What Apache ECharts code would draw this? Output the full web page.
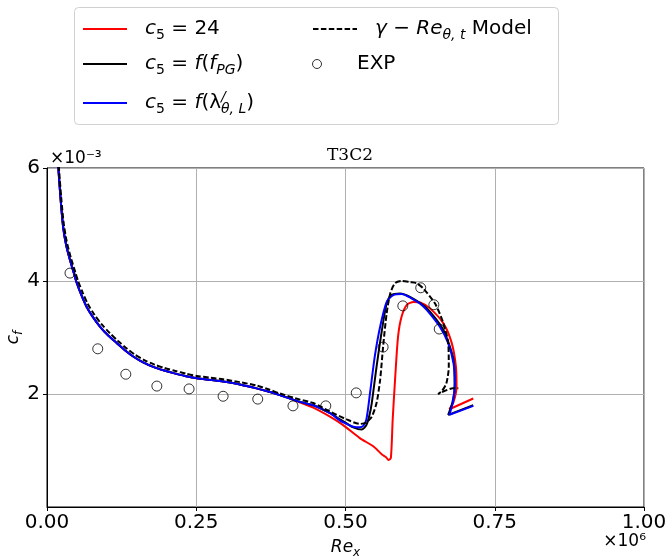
<!DOCTYPE html>
<html>
<head>
<meta charset="utf-8">
<script src="https://cdn.jsdelivr.net/npm/echarts@6/dist/echarts.min.js"></script>
<style>
  html, body { margin: 0; padding: 0; background: #ffffff; }
  #chart { width: 668px; height: 559px; }
</style>
</head>
<body>
<div id="chart"></div>
<script>
// Skin friction along the plate, T3C2 case (Re_x in units of 1e6, c_f in units of 1e-3)

const xTicks = [0, 0.25, 0.5, 0.75, 1.0];
const yTicks = [2, 4, 6];

// c5 = 24
const redX = [0.015, 0.019, 0.023, 0.027, 0.032, 0.0385, 0.045, 0.050, 0.058, 0.066, 0.077, 0.089, 0.103, 0.117, 0.131, 0.145, 0.161, 0.178, 0.195, 0.212, 0.231, 0.251, 0.273, 0.295, 0.323, 0.351, 0.372, 0.390, 0.405, 0.424, 0.446, 0.474, 0.496, 0.524, 0.547, 0.561, 0.568, 0.572, 0.576, 0.579, 0.583, 0.588, 0.594, 0.603, 0.614, 0.625, 0.641, 0.664, 0.678, 0.685, 0.686, 0.681, 0.674, 0.714];
const redY = [6.60, 6.00, 5.42, 4.96, 4.64, 4.37, 4.14, 3.96, 3.74, 3.55, 3.36, 3.19, 3.03, 2.90, 2.77, 2.66, 2.56, 2.48, 2.42, 2.37, 2.32, 2.28, 2.25, 2.22, 2.17, 2.10, 2.04, 1.98, 1.93, 1.85, 1.76, 1.60, 1.45, 1.22, 1.07, 0.93, 0.88, 0.83, 0.87, 1.54, 2.25, 3.01, 3.37, 3.58, 3.63, 3.62, 3.52, 3.25, 2.90, 2.48, 2.13, 1.86, 1.73, 1.92];

// c5 = f(f_PG)
const blackX = [0.015, 0.019, 0.023, 0.027, 0.032, 0.0385, 0.045, 0.050, 0.058, 0.066, 0.077, 0.089, 0.103, 0.117, 0.131, 0.145, 0.161, 0.178, 0.195, 0.212, 0.231, 0.251, 0.273, 0.295, 0.323, 0.351, 0.372, 0.390, 0.424, 0.446, 0.474, 0.491, 0.502, 0.513, 0.527, 0.535, 0.540, 0.544, 0.552, 0.561, 0.569, 0.577, 0.591, 0.608, 0.636, 0.664, 0.681, 0.683, 0.679, 0.672, 0.714];
const blackY = [6.60, 6.00, 5.42, 4.96, 4.64, 4.37, 4.14, 3.96, 3.74, 3.55, 3.36, 3.19, 3.03, 2.90, 2.77, 2.66, 2.56, 2.48, 2.42, 2.37, 2.32, 2.28, 2.25, 2.22, 2.17, 2.10, 2.04, 1.98, 1.86, 1.80, 1.66, 1.55, 1.48, 1.41, 1.37, 1.45, 1.62, 1.84, 2.48, 3.13, 3.60, 3.75, 3.78, 3.72, 3.52, 3.13, 2.60, 2.13, 1.85, 1.63, 1.80];

// c5 = f(lambda'_theta,L)
const blueX = [0.015, 0.019, 0.023, 0.027, 0.032, 0.0385, 0.045, 0.050, 0.058, 0.066, 0.077, 0.089, 0.103, 0.117, 0.131, 0.145, 0.161, 0.178, 0.195, 0.212, 0.231, 0.251, 0.273, 0.295, 0.323, 0.351, 0.372, 0.390, 0.424, 0.446, 0.474, 0.491, 0.502, 0.513, 0.524, 0.530, 0.535, 0.541, 0.549, 0.558, 0.569, 0.580, 0.594, 0.611, 0.625, 0.636, 0.658, 0.672, 0.681, 0.683, 0.680, 0.674, 0.714];
const blueY = [6.60, 6.00, 5.42, 4.96, 4.64, 4.37, 4.14, 3.96, 3.74, 3.55, 3.36, 3.19, 3.03, 2.90, 2.77, 2.66, 2.56, 2.48, 2.42, 2.37, 2.32, 2.28, 2.25, 2.22, 2.17, 2.10, 2.04, 1.98, 1.86, 1.80, 1.66, 1.53, 1.47, 1.42, 1.41, 1.44, 1.55, 2.01, 2.66, 3.19, 3.63, 3.75, 3.77, 3.69, 3.60, 3.49, 3.19, 2.90, 2.54, 2.19, 1.86, 1.63, 1.79];

// gamma - Re_theta,t model
const gammaX = [0.016, 0.020, 0.024, 0.028, 0.033, 0.040, 0.047, 0.052, 0.060, 0.068, 0.079, 0.091, 0.105, 0.119, 0.133, 0.147, 0.163, 0.180, 0.197, 0.214, 0.233, 0.251, 0.273, 0.295, 0.323, 0.351, 0.372, 0.390, 0.424, 0.446, 0.474, 0.502, 0.524, 0.535, 0.544, 0.552, 0.558, 0.563, 0.569, 0.575, 0.583, 0.594, 0.608, 0.619, 0.630, 0.650, 0.664, 0.672, 0.673, 0.669, 0.662, 0.655, 0.680, 0.689];
const gammaY = [6.60, 6.00, 5.45, 5.02, 4.70, 4.41, 4.17, 4.00, 3.79, 3.60, 3.41, 3.24, 3.08, 2.94, 2.81, 2.70, 2.60, 2.52, 2.46, 2.41, 2.36, 2.32, 2.29, 2.26, 2.21, 2.15, 2.08, 2.01, 1.90, 1.84, 1.69, 1.55, 1.47, 1.50, 1.60, 1.84, 2.25, 2.84, 3.43, 3.78, 3.96, 4.00, 3.98, 3.96, 3.87, 3.60, 3.25, 2.90, 2.48, 2.19, 2.06, 2.00, 2.10, 2.10];

// Experiment
const expX = [0.0385, 0.085, 0.132, 0.184, 0.238, 0.295, 0.353, 0.412, 0.467, 0.518, 0.563, 0.596, 0.626, 0.648, 0.657];
const expY = [4.14, 2.80, 2.35, 2.14, 2.09, 1.96, 1.91, 1.79, 1.79, 2.02, 2.83, 3.56, 3.88, 3.58, 3.15];

const zip = (xs, ys) => xs.map((x, i) => [x, ys[i]]);

const FONT = 'DejaVu Sans';
const richStyles = {
  g: { width: 13 },
  n: { fontFamily: FONT, fontSize: 20, color: '#000', lineHeight: 26 },
  i: { fontFamily: FONT, fontSize: 20, fontStyle: 'italic', color: '#000', lineHeight: 26 },
  s: { fontFamily: FONT, fontSize: 14, color: '#000', lineHeight: 14, verticalAlign: 'bottom' },
  si: { fontFamily: FONT, fontSize: 14, fontStyle: 'italic', color: '#000', lineHeight: 14, verticalAlign: 'bottom' },
  sup: { fontFamily: FONT, fontSize: 14, fontStyle: 'italic', color: '#000', lineHeight: 14, verticalAlign: 'top', width: 0 }
};

const legendText = {
  'red': '{g|}{i|c}{s|5}{n| = 24}',
  'black': '{g|}{i|c}{s|5}{n| = }{i|f}{n|(}{i|f}{si|PG}{n|)}',
  'blue': '{g|}{i|c}{s|5}{n| = }{i|f}{n|(λ}{sup|/}{si|θ, L}{n|)}',
  'gamma': '{g|}{i|γ}{n| − }{i|Re}{si|θ, t}{n| Model}',
  'exp': '{g|}{n|EXP}'
};

function legendAt(name, left, top, extra) {
  return Object.assign({
    left: left, top: top,
    itemWidth: 44, itemHeight: 10,
    padding: 0,
    selectedMode: false,
    data: [name],
    itemStyle: { opacity: 0 },
    formatter: (n) => legendText[n],
    textStyle: { rich: richStyles }
  }, extra || {});
}

const lineBase = (name, xs, ys, color, type) => ({
  name: name,
  type: 'line',
  data: zip(xs, ys),
  showSymbol: false,
  symbol: 'none',
  smooth: 0.25,
  clip: true,
  lineStyle: { color: color, width: 2, type: type || 'solid' },
  itemStyle: { color: color },
  emphasis: { disabled: true },
  animation: false
});

const axisNameRich = {
  i: { fontFamily: FONT, fontSize: 17, fontStyle: 'italic', color: '#000', lineHeight: 22 },
  si: { fontFamily: FONT, fontSize: 12, fontStyle: 'italic', color: '#000', lineHeight: 12, verticalAlign: 'bottom' }
};

const chart = echarts.init(document.getElementById('chart'), null, { renderer: 'canvas' });

chart.setOption({
  backgroundColor: '#ffffff',
  animation: false,
  title: {
    text: 'T3C2',
    left: 345, top: 142,
    textAlign: 'center',
    textStyle: { fontFamily: 'DejaVu Serif', fontSize: 17, fontWeight: 'normal', color: '#000' }
  },
  grid: {
    left: 47, right: 24, top: 168, bottom: 52,
    outerBoundsMode: 'none',
    containLabel: false,
    show: true, borderColor: '#000', borderWidth: 1, backgroundColor: 'transparent'
  },
  xAxis: {
    type: 'value', min: 0, max: 1, interval: 0.25,
    axisLine: { show: true, lineStyle: { color: '#000', width: 1 } },
    axisTick: { show: true, inside: false, length: 4, lineStyle: { color: '#000' } },
    axisLabel: {
      margin: 6, color: '#000', fontFamily: FONT, fontSize: 20,
      formatter: (v) => v.toFixed(2)
    },
    splitLine: { show: true, lineStyle: { color: '#b0b0b0', width: 1 } },
    name: '{i|Re}{si|x}',
    nameLocation: 'middle', nameGap: 30, nameMoveOverlap: false,
    nameTextStyle: { rich: axisNameRich }
  },
  yAxis: {
    type: 'value', min: 0, max: 6, interval: 2,
    axisLine: { show: true, lineStyle: { color: '#000', width: 1 } },
    axisTick: { show: true, inside: false, length: 4, customValues: yTicks, lineStyle: { color: '#000' } },
    axisLabel: {
      margin: 7, color: '#000', fontFamily: FONT, fontSize: 20,
      customValues: yTicks,
      formatter: (v) => String(v)
    },
    splitLine: { show: true, lineStyle: { color: '#b0b0b0', width: 1 } },
    name: '{i|c}{si|f}',
    nameLocation: 'middle', nameGap: 22, nameRotate: 90, nameMoveOverlap: false,
    nameTextStyle: { rich: axisNameRich }
  },
  legend: [
    legendAt('red', 82, 19),
    legendAt('black', 82, 54),
    legendAt('blue', 82, 90),
    legendAt('gamma', 312, 19),
    legendAt('exp', 312, 54, {
      itemHeight: 9,
      itemStyle: { color: '#ffffff', borderColor: '#000', borderWidth: 1 }
    })
  ],
  graphic: [
    {
      type: 'rect', z: -1, silent: true,
      shape: { x: 74.5, y: 7.5, width: 484, height: 117, r: 4 },
      style: { fill: '#ffffff', stroke: '#d0d0d0', lineWidth: 1 }
    },
    {
      type: 'text', silent: true, left: 50, top: 150,
      style: { text: '×10⁻³', fontFamily: FONT, fontSize: 17, fill: '#000' }
    },
    {
      type: 'text', silent: true, right: 22, top: 533,
      style: { text: '×10⁶', fontFamily: FONT, fontSize: 17, fill: '#000' }
    }
  ],
  series: [
    lineBase('red', redX, redY, '#ff0000'),
    lineBase('black', blackX, blackY, '#000000'),
    lineBase('blue', blueX, blueY, '#0000ff'),
    lineBase('gamma', gammaX, gammaY, '#000000', [5.5, 2.4]),
    {
      name: 'exp',
      type: 'scatter',
      data: zip(expX, expY),
      symbol: 'circle',
      symbolSize: 10,
      itemStyle: { color: 'rgba(255,255,255,0)', borderColor: '#000', borderWidth: 1 },
      emphasis: { disabled: true },
      z: 5,
      animation: false
    }
  ]
});
</script>
</body>
</html>
